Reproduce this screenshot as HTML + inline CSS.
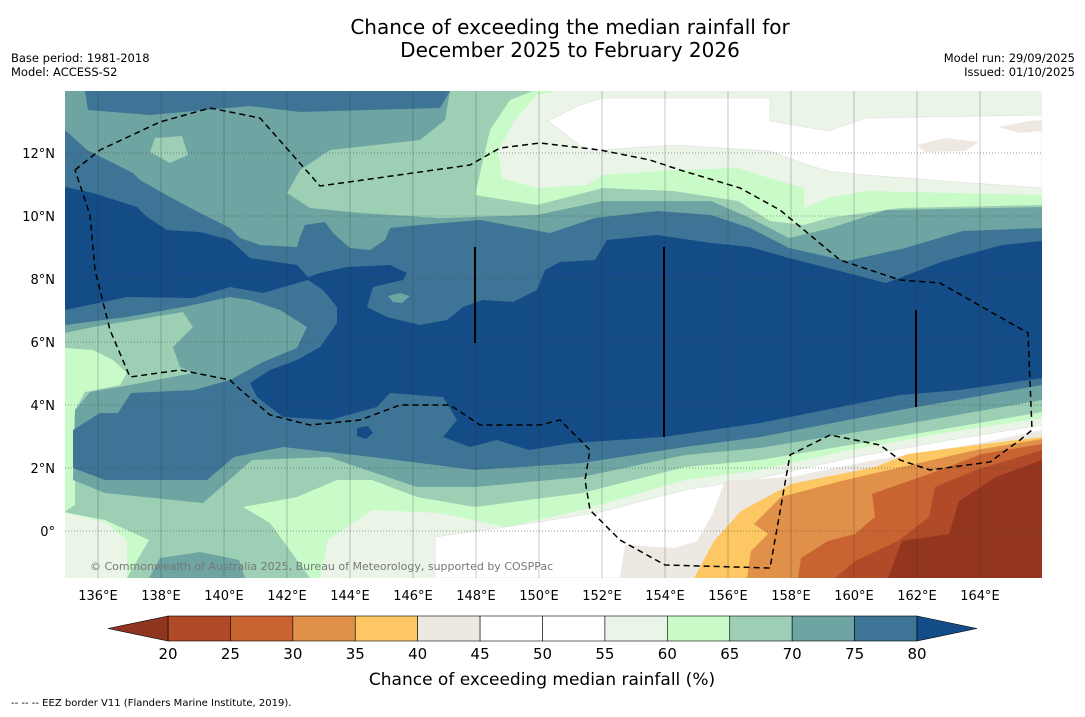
<!DOCTYPE html>
<html><head><meta charset="utf-8"><style>
body{margin:0;background:#fff;width:1085px;height:713px;overflow:hidden;font-family:"DejaVu Sans","Liberation Sans",sans-serif}
</style></head><body>
<svg id="s" width="1085" height="713" xmlns="http://www.w3.org/2000/svg" font-family="DejaVu Sans, Liberation Sans, sans-serif">
<text x="570" y="34" font-size="20" text-anchor="middle">Chance of exceeding the median rainfall for</text>
<text x="570" y="57" font-size="20" text-anchor="middle">December 2025 to February 2026</text>
<text x="11" y="62" font-size="11.5">Base period: 1981-2018</text>
<text x="11" y="76" font-size="11.5">Model: ACCESS-S2</text>
<text x="1075" y="62" font-size="11.5" text-anchor="end">Model run: 29/09/2025</text>
<text x="1075" y="76" font-size="11.5" text-anchor="end">Issued: 01/10/2025</text>
<defs><clipPath id="c"><rect x="65" y="91" width="977" height="487"/></clipPath></defs>
<g clip-path="url(#c)">
<rect x="65" y="91" width="977" height="487" fill="#eaf5e8"/>
<polygon fill="#ffffff" stroke="#ddd" stroke-width="0.6" points="548,121 580,105 603,98 770,98 770,121 828,131 866,118 1042,115 1042,188 944,181 866,175 828,171 808,165 770,151 673,145 587,151"/>
<polygon fill="#ede9e2" points="917,145 945,138 979,142 965,151 925,152"/>
<polygon fill="#ede9e2" points="998,127 1030,121 1042,120 1042,131 1020,133"/>
<polygon fill="#ffffff" stroke="#ddd" stroke-width="0.6" points="435,578 435,537 506,527 596,513 685,490 760,478 850,458 950,440 1042,425 1042,578"/>
<polygon fill="#c8fbc8" points="65,91 556,91 537,95 514,121 498,151 502,178 537,188 587,185 603,175 673,170 738,168 769,178 804,188 804,208 828,198 866,191 1042,195 1042,418 950,432 850,450 760,470 685,480 582,510 506,527 439,513 372,510 328,540 320,578 127,578 127,540 105,522 65,513"/>
<polygon fill="#9ccfb4" points="65,91 533,91 510,100 490,130 475,195 537,205 603,188 673,191 738,201 770,221 804,225 828,218 900,208 1042,205 1042,412 950,428 850,445 760,460 685,467 582,493 475,507 417,497 372,480 337,480 297,497 243,507 270,523 292,553 310,578 127,578 149,540 105,520 64,512 75,505 75,410 85,392 120,385 127,373 113,360 93,350 65,348"/>
<polygon fill="#6ea4a2" points="65,91 450,91 445,120 420,140 330,150 300,170 287,193 310,208 360,213 440,218 537,215 603,201 711,201 750,218 789,238 831,228 886,210 1042,207 1042,400 900,425 760,448 685,455 582,477 475,487 417,487 328,457 252,460 203,503 105,493 73,480 75,410 90,392 130,385 193,373 180,367 173,347 193,327 183,312 93,327 65,333"/>
<polygon fill="#6ea4a2" points="149,578 160,558 200,552 239,560 245,578"/>
<polygon fill="#9ccfb4" points="155,138 182,136 188,155 170,163 150,152"/>
<polygon fill="#3e7596" points="65,130 87,150 133,173 140,180 170,197 200,213 230,228 240,238 260,245 297,247 300,237 305,225 325,222 333,233 350,248 370,250 385,240 390,228 420,225 480,220 550,233 595,218 657,211 711,215 750,228 789,248 847,261 905,248 963,231 1042,228 1042,385 900,410 760,437 685,447 582,463 475,470 372,457 283,447 234,457 207,480 105,480 73,468 73,430 100,413 118,413 131,393 194,390 230,380 263,362 297,348 307,327 280,310 250,300 230,297 183,307 127,317 65,325"/>
<polygon fill="#3e7596" points="85,91 450,91 440,108 300,112 250,106 150,115 88,110"/>
<polygon fill="#134c87" points="65,187 93,193 137,207 147,217 167,230 200,232 230,240 250,258 297,265 308,277 320,273 347,267 390,265 407,273 403,280 373,287 367,307 387,317 420,325 447,320 463,307 483,300 513,302 537,290 545,270 560,262 595,260 607,240 657,235 711,243 750,247 789,258 828,268 886,283 944,261 1002,245 1042,241 1042,378 960,390 900,395 760,423 663,437 573,443 529,450 497,440 470,447 443,437 457,420 443,397 390,393 377,407 330,420 283,417 257,397 250,383 270,370 297,360 320,347 337,323 337,307 323,290 308,280 263,293 230,287 193,298 127,297 65,310"/>
<polygon fill="#134c87" points="357,428 368,426 373,433 366,439 357,436"/>
<polygon fill="#6ea4a2" points="388,296 400,293 410,296 402,303 393,302"/>
<polygon fill="#ede9e2" points="620,578 625,545 674,548 697,541 712,515 725,481 791,477 875,460 976,444 1042,430 1042,578"/>
<polygon fill="#fdc864" points="694,578 714,541 741,511 791,484 875,467 908,454 976,445 1042,437 1042,578"/>
<polygon fill="#e09048" points="747,578 751,551 768,534 754,524 781,497 841,481 915,464 976,450 1042,439 1042,578"/>
<polygon fill="#c96432" points="798,578 801,558 828,541 855,534 875,517 872,494 929,474 982,454 1042,444 1042,578"/>
<polygon fill="#b04a28" points="835,578 855,561 898,541 929,517 935,487 976,470 1042,450 1042,578"/>
<polygon fill="#94361f" points="888,578 902,541 949,534 959,501 996,477 1042,460 1042,578"/>
<g id="grid"></g>
<polyline fill="none" stroke="#000" stroke-width="1.5" stroke-dasharray="6,4" points="75,170 100,150 160,122 210,108 260,118 320,186 470,165 500,148 540,143 600,150 650,160 680,170 740,188 780,210 840,260 900,280 940,283 1028,333 1032,430 1020,440 990,462 930,470 900,460 880,445 830,435 790,455 770,568 665,565 620,540 590,510 585,480 590,450 560,420 540,425 480,425 450,405 400,405 360,420 310,425 270,415 235,385 230,380 180,370 130,377 110,330 95,270 90,215 75,170"/>
<line x1="475" y1="247" x2="475" y2="343" stroke="#000" stroke-width="2"/>
<line x1="664" y1="247" x2="664" y2="437" stroke="#000" stroke-width="2"/>
<line x1="916" y1="310" x2="916" y2="407" stroke="#000" stroke-width="2"/>
<text x="90" y="570" font-size="11" fill="#777">© Commonwealth of Australia 2025, Bureau of Meteorology, supported by COSPPac</text>
</g>
<g id="axes"></g>
<g id="cbar"></g>
<text x="542" y="685" font-size="17" text-anchor="middle">Chance of exceeding median rainfall (%)</text>
<text x="11" y="706" font-size="10">--  --  -- EEZ border V11 (Flanders Marine Institute, 2019).</text>
</svg>
<script>
const NS="http://www.w3.org/2000/svg";
const lonTicks=[136,138,140,142,144,146,148,150,152,154,156,158,160,162,164];
const latTicks=[0,2,4,6,8,10,12];
const levels=[20,25,30,35,40,45,50,55,60,65,70,75,80];
const bandColors=["#b04a28","#c96432","#e09048","#fdc864","#ede9e2","#ffffff","#ffffff","#eaf5e8","#c8fbc8","#9ccfb4","#6ea4a2","#3e7596"];
const lowColor="#8f3520", highColor="#134c87";
const xLon=l=>98+(l-136)*31.5, yLat=a=>531-a*31.5;
const grid=document.getElementById('grid'), axes=document.getElementById('axes');
function mk(t,a,p){const e=document.createElementNS(NS,t);for(const k in a)e.setAttribute(k,a[k]);p.appendChild(e);return e;}
lonTicks.forEach(l=>{
 const g=mk('line',{x1:xLon(l),x2:xLon(l),y1:91,y2:578,stroke:'#333','stroke-width':0.6,'stroke-opacity':0.45},grid);
 
 
 const t=mk('text',{x:xLon(l),y:600,'font-size':13,'text-anchor':'middle'},axes);t.textContent=l+'°E';
 
 
});
latTicks.forEach(a=>{
 const g=mk('line',{x1:65,x2:1042,y1:yLat(a),y2:yLat(a),stroke:'#444','stroke-width':0.8,'stroke-dasharray':'1,2','stroke-opacity':0.7},grid);
 
 
 const t=mk('text',{x:55,y:yLat(a)+5,'font-size':13,'text-anchor':'end'},axes);t.textContent=a===0?'0°':a+'°N';
 
 
});
const cb=document.getElementById('cbar');
const cx=v=>168+(v-20)*(749/60);
bandColors.forEach((c,i)=>{
 const r=mk('rect',{x:cx(levels[i]),y:616,width:cx(levels[i+1])-cx(levels[i]),height:25,fill:c,stroke:'#000','stroke-width':0.6},cb);
 
 
});
const l1=mk('polygon',{points:`${cx(20)},616 108,628.5 ${cx(20)},641`,fill:lowColor,stroke:'#000','stroke-width':0.6},cb);


const l2=mk('polygon',{points:`${cx(80)},616 977,628.5 ${cx(80)},641`,fill:highColor,stroke:'#000','stroke-width':0.6},cb);


levels.forEach(v=>{
 const t=mk('text',{x:cx(v),y:659,'font-size':15,'text-anchor':'middle'},cb);t.textContent=v;
 
 
});
</script>
</body></html>
